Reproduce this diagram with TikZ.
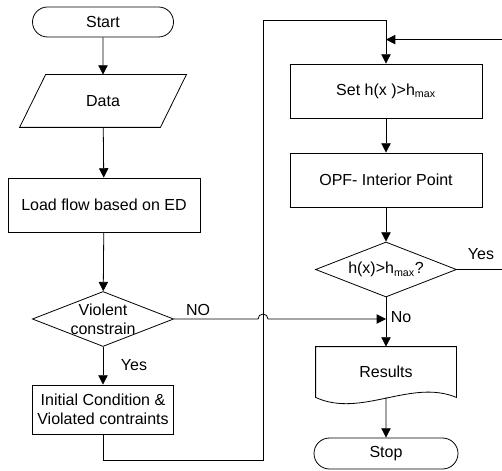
\documentclass[tikz,border=0pt]{standalone}
\usepackage{fontspec}
\setmainfont{Liberation Sans}
\usetikzlibrary{positioning,shapes.geometric,shapes.misc,arrows.meta,calc}

\begin{document}
\begin{tikzpicture}[
    x=0.75pt, y=-0.75pt,
    font=\fontsize{12}{14}\selectfont,
    line width=0.6pt,
    >={Triangle[length=7pt,width=7pt]},
    term/.style={
        draw,
        rounded rectangle,
        minimum width=105.75pt,
        minimum height=22.5pt,
        inner sep=0pt
    },
    io/.style={
        minimum width=105pt,
        minimum height=39pt,
        inner sep=0pt
    },
    box/.style={
        draw,
        rectangle,
        minimum width=144pt,
        minimum height=40.5pt,
        inner sep=2pt,
        align=center
    },
    dec/.style={
        draw,
        diamond,
        minimum width=106pt,
        minimum height=41.25pt,
        inner sep=0pt
    },
    lbl/.style={inner sep=1pt},
    arr/.style={->}
]
\useasboundingbox (0,0) rectangle (502,470);

\node[term] (start) at (103,22) {Start};
\node[io] (data) at (103,101) {Data};
\draw ($(data.north west)+(13,0)$) -- ($(data.north east)+(13,0)$)
    -- ($(data.south east)+(-13,0)$) -- ($(data.south west)+(-13,0)$) -- cycle;
\node[box] (load) at (104,205) {Load flow based on ED};
\node[dec, label={[name=violtxt,align=center]center:Violent\\constrain}] (viol) at (103,319) {};
\node[box, minimum width=105.75pt, minimum height=36.75pt] (init) at (103,409.5)
    {Initial Condition \&\\Violated contraints};

\node[box] (set) at (386,91) {Set h(x )>h\textsubscript{max}};
\node[box] (opf) at (386,180) {OPF- Interior Point};
\node[dec, minimum width=105.75pt, label={[name=chktxt]center:h(x)>h\textsubscript{max}?}] (chk) at (386,269.5) {};
\node[minimum width=105pt, minimum height=37.5pt, inner sep=0pt] (res) at (386,372) {Results};
\draw (res.north west) -- (res.north east) -- (res.south east)
    .. controls ($(res.south)+(25,-19)$) and ($(res.south)+(-25,21)$) .. (res.south west) -- cycle;
\node[term, minimum width=108pt, minimum height=23.25pt] (stop) at (386,453.5) {Stop};

\coordinate (loopx) at (263,460);
\coordinate (nojoin) at (viol.east -| chk.south);
\coordinate (yesin) at ($(set.north)+(0,-24)$);

\draw[arr] (start) -- (data);
\draw[arr] (data) -- (load);
\draw[arr] (load) -- (viol);
\draw[arr] (viol) -- (init);
\draw[arr] (init.south) |- (loopx) -- ++(0,-440) -| (set.north);
\draw[arr] (set) -- (opf);
\draw[arr] (opf) -- (chk);
\draw[arr] (chk) -- (res.north);
\draw[arr] (res.south) -- (stop);
\draw[arr] (chk.east) -- ++(48,0) |- (yesin);
\draw[arr] (viol.east) -- ($(viol.east -| loopx)+(-5,0)$)
    arc[start angle=180, end angle=0, radius=3.75pt] -- (nojoin);

\node[lbl] (nolbl) at (198,310) {NO};
\node[lbl] (yeslbl) at (134,365) {Yes};
\node[lbl] (yesrlbl) at (481,254) {Yes};
\node[lbl] (norlbl) at (401,317) {No};

\end{tikzpicture}
\end{document}
